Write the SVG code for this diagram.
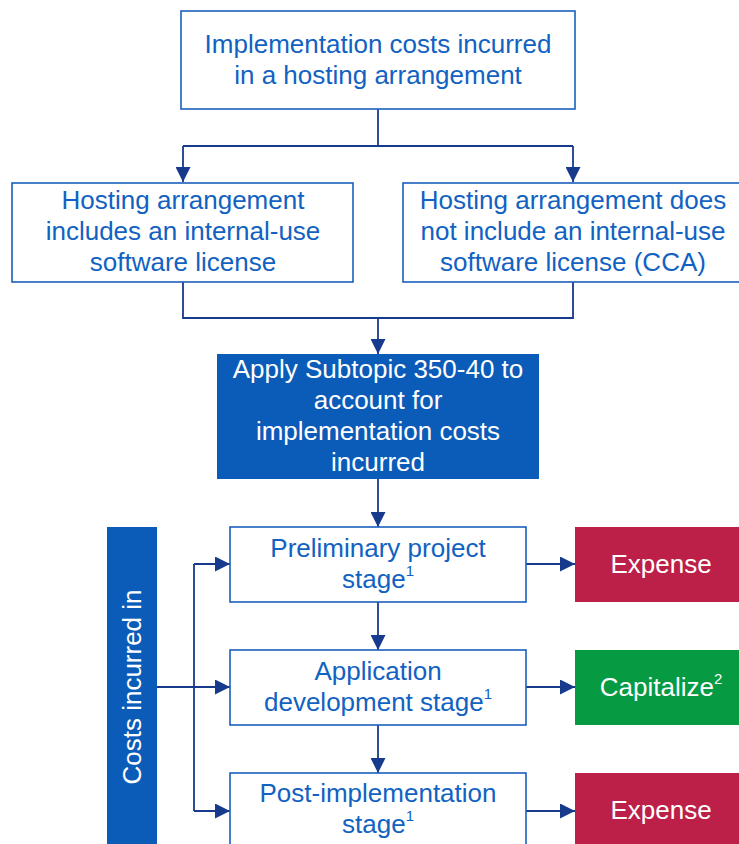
<svg xmlns="http://www.w3.org/2000/svg" width="739" height="844" viewBox="0 0 739 844">
<defs>
<marker id="ah" markerWidth="15" markerHeight="15" refX="15" refY="7.5" orient="auto" markerUnits="userSpaceOnUse"><path d="M0,0 L15,7.5 L0,15 z" fill="#173a8c"/></marker>
<style>
.box{fill:#fff;stroke:#1b5fbd;stroke-width:1.6}
.solid{fill:#0b5cb8}
.red{fill:#bc1f48}
.green{fill:#069a43}
.t{font-family:"Liberation Sans",Arial,sans-serif;font-size:26px;text-anchor:middle;fill:#1162c2}
.w{fill:#fff}
.sup{font-size:15px}
.c{fill:none;stroke:#173a8c;stroke-width:1.8}
</style>
</defs>
<rect width="739" height="844" fill="#fff"/>
<g id="connectors">
<path class="c" d="M378,109 V146"/>
<path class="c" d="M183,146 H573"/>
<path class="c" d="M183,146 V182" marker-end="url(#ah)"/>
<path class="c" d="M573,146 V182" marker-end="url(#ah)"/>
<path class="c" d="M183,282 V318 H573 V282"/>
<path class="c" d="M378,318 V354" marker-end="url(#ah)"/>
<path class="c" d="M378,479 V527" marker-end="url(#ah)"/>
<path class="c" d="M378,602 V650" marker-end="url(#ah)"/>
<path class="c" d="M378,725 V773" marker-end="url(#ah)"/>
<path class="c" d="M157,687 H230" marker-end="url(#ah)"/>
<path class="c" d="M194,564 V811"/>
<path class="c" d="M194,564 H230" marker-end="url(#ah)"/>
<path class="c" d="M194,811 H230" marker-end="url(#ah)"/>
<path class="c" d="M526,564 H575" marker-end="url(#ah)"/>
<path class="c" d="M526,687 H575" marker-end="url(#ah)"/>
<path class="c" d="M526,811 H575" marker-end="url(#ah)"/>
</g>
<g id="top">
<rect class="box" x="181" y="11" width="394" height="98"/>
<text class="t" x="378" y="53">Implementation costs incurred</text>
<text class="t" x="378" y="84">in a hosting arrangement</text>
</g>
<g id="includes">
<rect class="box" x="12" y="183" width="341" height="99"/>
<text class="t" x="183" y="209">Hosting arrangement</text>
<text class="t" x="183" y="240">includes an internal-use</text>
<text class="t" x="183" y="271">software license</text>
</g>
<g id="notinclude">
<rect class="box" x="403" y="183" width="340" height="99"/>
<text class="t" x="573" y="209">Hosting arrangement does</text>
<text class="t" x="573" y="240">not include an internal-use</text>
<text class="t" x="573" y="271">software license (CCA)</text>
</g>
<g id="apply">
<rect class="solid" x="217" y="354" width="322" height="125"/>
<text class="t w" x="378" y="378">Apply Subtopic 350-40 to</text>
<text class="t w" x="378" y="409">account for</text>
<text class="t w" x="378" y="440">implementation costs</text>
<text class="t w" x="378" y="471">incurred</text>
</g>
<g id="costsin">
<rect class="solid" x="107" y="527" width="50" height="330"/>
<text class="t w" transform="translate(141,687) rotate(-90)" x="0" y="0">Costs incurred in</text>
</g>
<g id="prelim">
<rect class="box" x="230" y="527" width="296" height="75"/>
<text class="t" x="378" y="557">Preliminary project</text>
<text class="t" x="378" y="588">stage<tspan class="sup" dy="-12">1</tspan></text>
</g>
<g id="appdev">
<rect class="box" x="230" y="650" width="296" height="75"/>
<text class="t" x="378" y="680">Application</text>
<text class="t" x="378" y="711">development stage<tspan class="sup" dy="-12">1</tspan></text>
</g>
<g id="post">
<rect class="box" x="230" y="773" width="296" height="90"/>
<text class="t" x="378" y="802">Post-implementation</text>
<text class="t" x="378" y="833">stage<tspan class="sup" dy="-12">1</tspan></text>
</g>
<g id="expense1">
<rect class="red" x="575" y="527" width="180" height="75"/>
<text class="t w" x="661" y="573">Expense</text>
</g>
<g id="capitalize">
<rect class="green" x="575" y="650" width="180" height="75"/>
<text class="t w" x="661" y="696">Capitalize<tspan class="sup" dy="-12">2</tspan></text>
</g>
<g id="expense2">
<rect class="red" x="575" y="773" width="180" height="90"/>
<text class="t w" x="661" y="819">Expense</text>
</g>
</svg>
